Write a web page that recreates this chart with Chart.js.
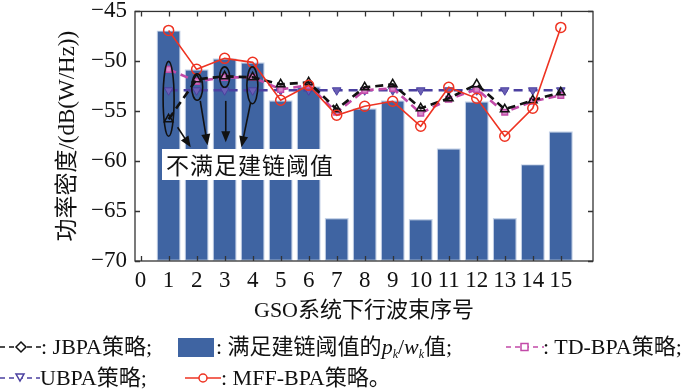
<!DOCTYPE html>
<html>
<head>
<meta charset="utf-8">
<script src="https://cdn.jsdelivr.net/npm/chart.js@4.4.1/dist/chart.umd.min.js"></script>
<style>
  html, body { margin: 0; padding: 0; background: #fff; }
  #wrap { position: relative; width: 700px; height: 392px; overflow: hidden; }
  #chart { position: absolute; left: 0; top: 0; }
  .lg {
    position: absolute;
    font-family: "Liberation Serif", "Noto Sans CJK SC", serif;
    font-size: 22px;
    color: #111;
    white-space: nowrap;
    line-height: 22px;
  }
  .lg sub { font-size: 12px; font-style: italic; vertical-align: -4px; line-height: 0; }
  .lg i { font-style: italic; }
  .sample { position: absolute; }
  #note {
    position: absolute;
    left: 162px; top: 149px; width: 176px; height: 31px;
    background: #fff;
    font-family: "Noto Sans CJK SC", sans-serif;
    font-size: 23px;
    letter-spacing: 1px;
    line-height: 31px;
    text-align: center;
    color: #111;
  }
</style>
</head>
<body>
<div id="wrap">
  <canvas id="chart" width="700" height="392"></canvas>
  <div id="note">不满足建链阈值</div>

  <!-- legend row 1 -->
  <svg class="sample" style="left:0;top:337px" width="42" height="20">
    <line x1="0" y1="10" x2="42" y2="10" stroke="#111" stroke-width="1.5" stroke-dasharray="5 4"/>
    <polygon points="21,5 26,10 21,15 16,10" fill="#fff" stroke="#111" stroke-width="1.5"/>
  </svg>
  <div class="lg" style="left:41px;top:336px">: JBPA策略;</div>
  <svg class="sample" style="left:178px;top:338px" width="36" height="19">
    <rect x="0" y="0" width="36" height="19" fill="#3f64a2"/>
  </svg>
  <div class="lg" style="left:216px;top:336px">: 满足建链阈值的<i>p</i><sub>k</sub>/<i>w</i><sub>k</sub>值;</div>
  <svg class="sample" style="left:506px;top:337px" width="38" height="20">
    <line x1="0" y1="10" x2="38" y2="10" stroke="#c24aa8" stroke-width="1.5" stroke-dasharray="5 4"/>
    <rect x="15" y="6.5" width="7" height="7" fill="#fff" stroke="#c24aa8" stroke-width="1.5"/>
  </svg>
  <div class="lg" style="left:543px;top:336px">: TD-BPA策略;</div>

  <!-- legend row 2 -->
  <svg class="sample" style="left:0;top:368px" width="40" height="20">
    <line x1="0" y1="10" x2="40" y2="10" stroke="#4b40a0" stroke-width="1.5" stroke-dasharray="5 4"/>
    <polygon points="16,6 24,6 20,13" fill="#fff" stroke="#4b40a0" stroke-width="1.5"/>
  </svg>
  <div class="lg" style="left:40px;top:367px">UBPA策略;</div>
  <svg class="sample" style="left:185px;top:368px" width="36" height="20">
    <line x1="0" y1="10" x2="36" y2="10" stroke="#ee3322" stroke-width="1.5"/>
    <circle cx="18" cy="10" r="4" fill="#fff" stroke="#ee3322" stroke-width="1.5"/>
  </svg>
  <div class="lg" style="left:221px;top:367px">: MFF-BPA策略。</div>
</div>

<script>
// GSO downlink beams 1..15
const beams = [1, 2, 3, 4, 5, 6, 7, 8, 9, 10, 11, 12, 13, 14, 15]
const xTickLabels = ['0', '1', '2', '3', '4', '5', '6', '7', '8', '9', '10', '11', '12', '13', '14', '15']
const yTicks = [-70, -65, -60, -55, -50, -45]

// power density, dB(W/Hz)
const barValues = [-46.9, -50.8, -49.7, -50.1, -53.9, -52.5, -65.7, -54.7, -53.9, -65.8, -58.7, -54.0, -65.7, -60.3, -57.0]
const jbpaValues = [-55.8, -51.8, -51.5, -51.6, -52.3, -52.1, -54.8, -52.6, -52.3, -54.7, -53.7, -52.3, -54.8, -53.9, -53.1]
const tdValues = [-50.8, -52.0, -51.6, -51.6, -52.8, -52.4, -55.1, -52.9, -52.7, -55.2, -53.8, -52.8, -55.1, -54.0, -53.4]
const ubpaValues = [-52.9, -52.9, -52.9, -52.9, -52.9, -52.9, -52.9, -52.9, -52.9, -52.9, -52.9, -52.9, -52.9, -52.9, -52.9]
const mffValues = [-46.9, -50.8, -49.7, -50.1, -53.9, -52.4, -55.4, -54.5, -54.0, -56.5, -52.6, -53.7, -57.5, -54.7, -46.6]

const yMin = -70
const yMax = -45
const serif = '"Liberation Serif", "Noto Sans CJK SC", serif'

const toPoints = vals => vals.map((v, i) => ({ x: beams[i], y: v }))

// annotation shapes (data coords)
const ellipses = [
  { x: 1.0, top: -50.0, bottom: -57.5, rx: 5.5 },
  { x: 2.02, top: -51.25, bottom: -53.9, rx: 5.5 },
  { x: 3.0, top: -50.55, bottom: -52.6, rx: 5 },
  { x: 3.99, top: -50.55, bottom: -54.25, rx: 5.5 }
]
const arrows = [
  { from: [1.32, -56.6], to: [1.79, -58.6] },
  { from: [2.13, -53.96], to: [2.39, -58.4] },
  { from: [3.04, -53.96], to: [3.04, -58.1] },
  { from: [3.93, -54.1], to: [3.6, -58.6] }
]

const framePlugin = {
  id: 'frame',
  afterDatasetsDraw(chart) {
    const { ctx, scales: { x, y } } = chart
    ctx.save()
    ctx.strokeStyle = '#111'
    ctx.fillStyle = '#111'
    ctx.lineWidth = 1.6
    ellipses.forEach(e => {
      const top = y.getPixelForValue(e.top)
      const bottom = y.getPixelForValue(e.bottom)
      ctx.beginPath()
      ctx.ellipse(x.getPixelForValue(e.x), (top + bottom) / 2, e.rx, (bottom - top) / 2, 0, 0, Math.PI * 2)
      ctx.stroke()
    })
    arrows.forEach(a => {
      const x0 = x.getPixelForValue(a.from[0])
      const y0 = y.getPixelForValue(a.from[1])
      const x1 = x.getPixelForValue(a.to[0])
      const y1 = y.getPixelForValue(a.to[1])
      const ang = Math.atan2(y1 - y0, x1 - x0)
      const head = 11
      ctx.beginPath()
      ctx.moveTo(x0, y0)
      ctx.lineTo(x1 - Math.cos(ang) * head * 0.8, y1 - Math.sin(ang) * head * 0.8)
      ctx.stroke()
      ctx.beginPath()
      ctx.moveTo(x1, y1)
      ctx.lineTo(x1 - Math.cos(ang) * head + Math.sin(ang) * 4.5, y1 - Math.sin(ang) * head - Math.cos(ang) * 4.5)
      ctx.lineTo(x1 - Math.cos(ang) * head - Math.sin(ang) * 4.5, y1 - Math.sin(ang) * head + Math.cos(ang) * 4.5)
      ctx.closePath()
      ctx.fill()
    })
    ctx.restore()
  },
  afterDraw(chart) {
    const { ctx, chartArea: a, scales: { x, y } } = chart
    ctx.save()
    ctx.strokeStyle = '#333'
    ctx.lineWidth = 1.3
    ctx.strokeRect(a.left, a.top, a.right - a.left, a.bottom - a.top)
    ctx.beginPath()
    x.ticks.forEach(t => {
      const px = Math.round(x.getPixelForValue(t.value)) + 0.5
      ctx.moveTo(px, a.bottom); ctx.lineTo(px, a.bottom - 5)
      ctx.moveTo(px, a.top); ctx.lineTo(px, a.top + 5)
    })
    y.ticks.forEach(t => {
      const py = Math.round(y.getPixelForValue(t.value)) + 0.5
      ctx.moveTo(a.left, py); ctx.lineTo(a.left + 5, py)
      ctx.moveTo(a.right, py); ctx.lineTo(a.right - 5, py)
    })
    ctx.stroke()
    ctx.restore()
  }
}

const lineSet = (label, vals, color, extra) => ({
  type: 'line',
  label,
  data: toPoints(vals),
  borderColor: color,
  pointBorderColor: color,
  tension: 0,
  fill: false,
  ...extra
})

const ctx = document.getElementById('chart').getContext('2d')
new Chart(ctx, {
  type: 'bar',
  data: {
    datasets: [
      lineSet('MFF-BPA策略', mffValues, '#ee3322', {
        order: 0, borderWidth: 1.6, pointStyle: 'circle', pointRadius: 5,
        pointBorderWidth: 1.5, pointBackgroundColor: 'rgba(255,255,255,0)'
      }),
      lineSet('JBPA策略', jbpaValues, '#111', {
        order: 1, borderWidth: 2.6, borderDash: [8, 5], pointStyle: 'triangle', pointRadius: 5,
        pointBorderWidth: 1.5, pointBackgroundColor: 'rgba(255,255,255,0)'
      }),
      lineSet('TD-BPA策略', tdValues, '#c24aa8', {
        order: 2, borderWidth: 2.6, borderDash: [8, 5], pointStyle: 'rect', pointRadius: 4,
        pointBorderWidth: 1.5, pointBackgroundColor: '#d98acb'
      }),
      lineSet('UBPA策略', ubpaValues, '#4b40a0', {
        order: 3, borderWidth: 2.6, borderDash: [9, 6], pointStyle: 'triangle', pointRotation: 180,
        pointRadius: 5, pointBorderWidth: 1, pointBackgroundColor: '#6a5fb5'
      }),
      {
        type: 'bar',
        label: '满足建链阈值的pk/wk值',
        order: 10,
        data: barValues.map((v, i) => ({ x: beams[i], y: [yMin, v] })),
        backgroundColor: '#3f64a2',
        borderColor: '#c6d3e8',
        borderWidth: 1.2,
        borderSkipped: false,
        barPercentage: 0.86,
        categoryPercentage: 1
      }
    ]
  },
  options: {
    responsive: false,
    animation: false,
    events: [],
    layout: { padding: { left: 0, top: 0, right: 107, bottom: 68 } },
    plugins: {
      legend: { display: false },
      tooltip: { enabled: false }
    },
    scales: {
      x: {
        type: 'linear',
        min: -0.2,
        max: 16.15,
        offset: false,
        grid: { display: false, drawTicks: false },
        border: { display: false },
        afterBuildTicks: s => { s.ticks = xTickLabels.map(l => ({ value: Number(l) })) },
        afterFit: s => { s.height = 63 },
        ticks: {
          autoSkip: false,
          maxRotation: 0,
          padding: 6,
          color: '#111',
          font: { family: serif, size: 23 },
          callback: v => xTickLabels[v] ?? ''
        },
        title: {
          display: true,
          text: 'GSO系统下行波束序号',
          color: '#111',
          font: { family: serif, size: 22 },
          padding: { top: 0, bottom: 0 }
        }
      },
      y: {
        min: yMin,
        max: yMax,
        grid: { display: false, drawTicks: false },
        border: { display: false },
        afterBuildTicks: s => { s.ticks = yTicks.map(v => ({ value: v })) },
        afterFit: s => { s.width = 135 },
        ticks: {
          padding: 8,
          color: '#111',
          font: { family: serif, size: 23, lineHeight: 0.3 },
          callback: v => String(v).replace('-', '\u2212')
        },
        title: {
          display: true,
          text: '功率密度/(dB(W/Hz))',
          color: '#111',
          font: { family: serif, size: 23 },
          padding: { top: 54, bottom: 0 }
        }
      }
    }
  },
  plugins: [framePlugin]
})
</script>
</body>
</html>
